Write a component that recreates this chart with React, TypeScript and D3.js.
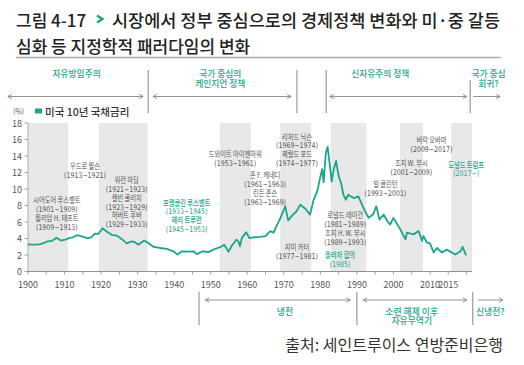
import * as d3 from 'd3';

// 미국 10년 국채금리 (%)
const years = [
  1900, 1901.5, 1903, 1904.3, 1905.3, 1906.5, 1907.8, 1909, 1910.2, 1911.2, 1912.3, 1913.4,
  1914.7, 1916.2, 1917.2, 1918.3, 1919.2, 1920.4, 1921.5, 1922.9, 1924.3, 1925.6, 1927,
  1928.4, 1929.3, 1930.2, 1931.8, 1932.9, 1934.3, 1936.1, 1938, 1939.8, 1940.9, 1942.1,
  1943.9, 1945.3, 1946.2, 1947.8, 1949.4, 1950.7, 1952.6, 1953.7, 1954.9, 1955.8, 1957,
  1957.6, 1958, 1958.5, 1959.7, 1960.6, 1961.7, 1963.5, 1965, 1966.3, 1967.2, 1968.1, 1969,
  1970.4, 1971.2, 1972.5, 1973.5, 1974.5, 1975.9, 1977.2, 1978.1, 1979.2, 1980, 1980.5,
  1980.9, 1981.5, 1982, 1982.5, 1983.1, 1983.6, 1984.3, 1985, 1985.7, 1986.3, 1987, 1987.6,
  1989.1, 1990.4, 1991.8, 1993.2, 1994.4, 1995.3, 1996.2, 1997.3, 1998.5, 1999.1, 2000,
  2001.9, 2003.3, 2003.7, 2005.5, 2006.9, 2007.8, 2008.2, 2009.2, 2010, 2011, 2011.9, 2013.3,
  2014.6, 2016.9, 2018.4, 2018.9, 2019.9,
];
const yields = [
  3.3, 3.25, 3.3, 3.45, 3.65, 3.7, 4.1, 3.75, 3.85, 4.05, 4.15, 4.4,
  4.25, 4.05, 4.1, 4.6, 4.55, 5.25, 4.85, 4.45, 4.35, 3.95, 3.4,
  3.65, 3.55, 3.25, 3.75, 3.45, 3.0, 2.85, 2.75, 2.45, 2.05, 2.45,
  2.4, 2.45, 2.1, 2.45, 2.35, 2.65, 2.95, 3.25, 2.4, 3.15, 3.85,
  3.65, 3.05, 4.05, 4.75, 4.05, 4.15, 4.2, 4.3, 4.9, 4.7, 5.6, 6.4,
  7.9, 6.2, 6.9, 7.3, 8.1, 7.6, 6.9, 8.6, 9.8, 11.5, 12.4,
  10.8, 14.4, 15.1, 13.2, 10.9, 12.3, 13.4, 11.6, 10.7, 9.3, 8.7, 9.3,
  8.9, 9.1, 7.7, 6.5, 6.9, 7.9, 6.3, 6.9, 6.0, 5.7, 6.5,
  5.1, 3.9, 4.7, 4.5, 4.9, 3.7, 4.3, 3.5, 3.4, 2.3, 2.85, 2.3,
  2.65, 2.05, 2.45, 3.0, 1.95,
];

// shaded presidential periods (years)
const bandStart = [1900, 1919.4, 1952.5, 1969, 1982.8, 2001.8, 2015.8];
const bandEnd = [1911, 1932.8, 1961, 1977.5, 1992.6, 2008.1, 2021.5];

const yTicks = [0, 2, 4, 6, 8, 10, 12, 14, 16, 18];
const minorTicks = d3.range(1900, 2021, 5);
const xLabels = [1900, 1910, 1920, 1930, 1940, 1950, 1960, 1970, 1980, 1990, 2000, 2010, 2015];

// president annotations: text lines, anchor (year, %) and colour flag
const presLines = [
  ['시어도어 루스벨트', '(1901~1909)', '윌리엄 H. 태프트', '(1909~1913)'],
  ['우드로 윌슨', '(1913~1921)'],
  ['워런 하딩', '(1921~1923)', '캘빈 쿨리지', '(1923~1929)', '허버트 후버', '(1929~1933)'],
  ['프랭클린 루스벨트', '(1933~1945)', '해리 트루먼', '(1945~1953)'],
  ['드와이트 아이젠하워', '(1953~1961)'],
  ['존 F. 케네디', '(1961~1963)', '린든 존슨', '(1963~1969)'],
  ['리처드 닉슨', '(1969~1974)', '제럴드 포드', '(1974~1977)'],
  ['지미 카터', '(1977~1981)'],
  ['로널드 레이건', '(1981~1989)', '조지 H. W. 부시', '(1989~1993)'],
  ['플라자 합의', '(1985)'],
  ['빌 클린턴', '(1993~2001)'],
  ['조지 W. 부시', '(2001~2009)'],
  ['버락 오바마', '(2009~2017)'],
  ['도널드 트럼프', '(2017~)'],
];
const presYear = [1907.9, 1915.6, 1927, 1943.4, 1956.7, 1964.9, 1973.6, 1973.6, 1986.8, 1985.4, 1997.8, 2004.9, 2010.4, 2019.9];
const presRate = [8.7, 12.8, 11.15, 8.4, 14.3, 11.75, 16.4, 3.05, 6.9, 2.0, 10.6, 13.2, 16.0, 13.0];
const presTeal = [false, false, false, true, false, false, false, false, false, true, false, false, false, true];

// era labels
const topEras = [['자유방임주의'], ['국가 중심의', '케인지언 정책'], ['신자유주의 정책'], ['국가 중심', '회귀?']];
const topEraYear = [1913.3, 1952.6, 1996.4, 2026];
const topArrowFrom = [1894.5, 1934.2, 1982.6, 2021.8];
const topArrowTo = [1931.5, 1972, 2020.1, 2029.2];
const topDividers = [1932.9, 1973.6, 1981.6, 2021];

const bottomEras = [['냉전'], ['소련 해체 이후', '자유무역기'], ['신냉전?']];
const bottomEraYear = [1970.3, 2005, 2026.5];
const bottomArrowFrom = [1948.5, 1991.7, 2023.2];
const bottomArrowTo = [1988.2, 2020.1, 2030];
const bottomDividers = [1946.8, 1990, 2021.7];

const TEAL = '#1ba68c';
const GRAY = '#555';
const FONT = "'Noto Sans CJK KR', 'Noto Sans', sans-serif";
const WIDE = "'DejaVu Sans', sans-serif";

const hasHangul = (s: string) => /[\uac00-\ud7a3]/.test(s);

export default function App() {
  const width = 524;
  const height = 365;

  const x = d3.scaleLinear().domain([1900, 2021.5]).range([28, 472]);
  const y = d3.scaleLinear().domain([0, 18]).range([271.5, 123]);

  const pts = years.map((yr, i) => [yr, yields[i]] as [number, number]);
  const line = d3.line<[number, number]>()
    .x(d => x(d[0]))
    .y(d => y(d[1]));

  // one <text> per label; squeezed horizontally, digit lines in a wider face
  const label = (lines: string[], cx: number, cy: number, color: string, size: number, squeeze: number, gap: number, key: string) => (
    <text
      key={key}
      transform={`translate(${cx},${cy}) scale(${squeeze},1)`}
      textAnchor="middle"
      dominantBaseline="central"
      fontSize={size}
      fill={color}
      fontWeight={color === TEAL ? 500 : 400}
    >
      {lines.map((t, j) => (
        <tspan key={j} x={0} dy={j === 0 ? 0 : gap} fontFamily={hasHangul(t) ? FONT : WIDE}>{t}</tspan>
      ))}
    </text>
  );

  const arrowHead = (px: number, py: number, dir: number, key: string) => (
    <path key={key} d={`M${px + dir * 4},${py - 2.2} L${px},${py} L${px + dir * 4},${py + 2.2}`} fill="none" stroke="#888" strokeWidth={0.9} />
  );

  const topY = 96.5;
  const botY = 300;

  return (
    <svg width={width} height={height} style={{ position: 'absolute', left: 0, top: 0, background: '#fff' }} fontFamily={FONT}>
      {/* title */}
      <text x={16} y={19} dominantBaseline="central" fontSize={17} fontWeight={500} fill="#222">그림 4-17</text>
      <path d="M97,15.5 L102.5,19 L97,22.5" fill="none" stroke={TEAL} strokeWidth={2.4} />
      <text x={112} y={19} dominantBaseline="central" fontSize={17} fontWeight={500} fill="#222" textLength={388} lengthAdjust="spacingAndGlyphs">시장에서 정부 중심으로의 경제정책 변화와 미·중 갈등</text>
      <text x={16} y={45} dominantBaseline="central" fontSize={17} fontWeight={500} fill="#222">심화 등 지정학적 패러다임의 변화</text>
      <line x1={16} x2={501} y1={57.5} y2={57.5} stroke="#aaa" strokeWidth={1.3} />

      {/* top eras */}
      {topEras.map((ls, i) => label(ls, x(topEraYear[i]), 72.5, TEAL, 9.5, 0.92, 10.6, 'te' + i))}
      {topArrowFrom.map((f, i) => (
        <g key={'ta' + i}>
          <line x1={x(f)} x2={x(topArrowTo[i])} y1={topY} y2={topY} stroke="#888" strokeWidth={0.9} />
          {i < 3 && arrowHead(x(f), topY, 1, 'l')}
          {arrowHead(x(topArrowTo[i]), topY, -1, 'r')}
        </g>
      ))}
      {topDividers.map((d, i) => (
        <line key={'td' + i} x1={x(d)} x2={x(d)} y1={i === 3 ? 80 : 70} y2={113} stroke="#999" strokeWidth={1.2} />
      ))}

      {/* bands */}
      {bandStart.map((s, i) => (
        <rect key={'b' + i} x={x(s)} y={y(18)} width={x(bandEnd[i]) - x(s)} height={y(0) - y(18)} fill="#e8e8e8" />
      ))}

      {/* legend */}
      <text x={13} y={111} dominantBaseline="central" fontSize={7} fill={GRAY}>(%)</text>
      <rect x={35} y={108.5} width={7} height={5} fill={TEAL} />
      <text x={45} y={111} dominantBaseline="central" fontSize={10.5} fontWeight={500} fill="#333">미국 10년 국채금리</text>

      {/* y axis */}
      <line x1={28} x2={28} y1={y(18)} y2={y(0)} stroke="#999" strokeWidth={0.8} />
      {yTicks.map(t => (
        <g key={'y' + t}>
          <line x1={24.5} x2={28} y1={y(t)} y2={y(t)} stroke="#888" strokeWidth={0.8} />
          <text x={22} y={y(t)} textAnchor="end" dominantBaseline="central" fontSize={9} fill={GRAY}>{t}</text>
        </g>
      ))}

      {/* x axis */}
      <line x1={x(1900)} x2={x(2021.5)} y1={y(0)} y2={y(0)} stroke="#888" strokeWidth={0.9} />
      {minorTicks.map(t => (
        <line key={'m' + t} x1={x(t)} x2={x(t)} y1={y(0)} y2={y(0) + 3} stroke="#888" strokeWidth={0.8} />
      ))}
      {xLabels.map(t => (
        <text key={'x' + t} x={x(t)} y={284} textAnchor="middle" dominantBaseline="central" fontSize={9} fill={GRAY}>{t}</text>
      ))}

      {/* president annotations */}
      {presLines.map((ls, i) => label(ls, x(presYear[i]), y(presRate[i]), presTeal[i] ? TEAL : GRAY, 7.8, 0.8, 8.9, 'p' + i))}

      {/* yield line */}
      <path d={line(pts) || ''} fill="none" stroke={TEAL} strokeWidth={1.8} strokeLinejoin="round" />

      {/* bottom eras */}
      {bottomDividers.map((d, i) => (
        <line key={'bd' + i} x1={x(d)} x2={x(d)} y1={292} y2={325} stroke="#999" strokeWidth={1.2} />
      ))}
      {bottomArrowFrom.map((f, i) => (
        <g key={'ba' + i}>
          <line x1={x(f)} x2={x(bottomArrowTo[i])} y1={botY} y2={botY} stroke="#888" strokeWidth={0.9} />
          {i < 2 && arrowHead(x(f), botY, 1, 'l')}
          {arrowHead(x(bottomArrowTo[i]), botY, -1, 'r')}
        </g>
      ))}
      {bottomEras.map((ls, i) => label(ls, x(bottomEraYear[i]), 310.5, TEAL, 9.3, 0.95, 9.8, 'be' + i))}

      {/* source */}
      <text x={503} y={344} textAnchor="end" dominantBaseline="central" fontSize={16} fill="#333">출처: 세인트루이스 연방준비은행</text>
    </svg>
  );
}
